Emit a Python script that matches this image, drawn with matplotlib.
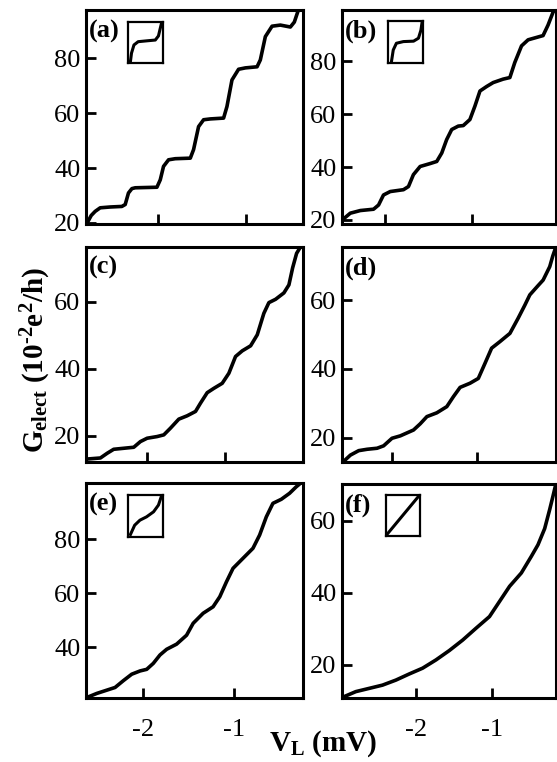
import matplotlib
matplotlib.use('Agg')
import matplotlib.pyplot as plt

plt.rcParams['font.family'] = 'serif'
plt.rcParams['font.serif'] = ['Liberation Serif', 'DejaVu Serif']
plt.rcParams['mathtext.fontset'] = 'custom'
plt.rcParams['mathtext.rm'] = 'Liberation Serif'
plt.rcParams['mathtext.bf'] = 'Liberation Serif:bold'
plt.rcParams['mathtext.it'] = 'Liberation Serif:italic'
plt.rcParams['axes.unicode_minus'] = False

# ---- data (V_L in mV, G in 10^-2 e^2/h) ----
a_vl = [-2.803, -2.761, -2.716, -2.659, -2.545, -2.413, -2.375, -2.338, -2.299, -2.261,
        -2.015, -1.977, -1.940, -1.883, -1.807, -1.636, -1.599, -1.542, -1.485, -1.409,
        -1.258, -1.220, -1.163, -1.088, -1.011, -0.878, -0.841, -0.784, -0.708, -0.614,
        -0.500, -0.455, -0.409]
a_g = [20.2, 22.7, 24.2, 25.5, 25.8, 26.0, 26.7, 30.9, 32.5, 32.8,
       33.0, 35.7, 40.6, 43.0, 43.4, 43.6, 46.7, 55.1, 57.6, 57.9,
       58.2, 62.4, 72.1, 76.0, 76.5, 76.9, 79.4, 87.9, 91.7, 92.1,
       91.4, 93.2, 97.6]

b_vl = [-2.473, -2.404, -2.288, -2.135, -2.077, -2.020, -1.942, -1.789, -1.731, -1.674,
        -1.596, -1.481, -1.404, -1.346, -1.289, -1.231, -1.155, -1.097, -1.020, -0.962,
        -0.904, -0.827, -0.751, -0.636, -0.558, -0.501, -0.423, -0.347, -0.250, -0.174,
        -0.116, -0.058, -0.038]
b_g = [20.6, 22.5, 23.5, 24.0, 25.6, 29.4, 30.7, 31.4, 32.6, 37.1,
       40.2, 41.3, 42.1, 45.3, 50.4, 54.2, 55.5, 55.7, 58.0, 63.1,
       68.8, 70.5, 72.0, 73.3, 73.9, 79.6, 85.9, 88.2, 89.1, 89.8,
       93.8, 98.7, 99.5]

c_vl = [-2.768, -2.604, -2.517, -2.432, -2.303, -2.173, -2.087, -2.000, -1.871, -1.785,
        -1.699, -1.591, -1.483, -1.375, -1.310, -1.224, -1.138, -1.030, -0.944, -0.858,
        -0.771, -0.663, -0.577, -0.492, -0.427, -0.340, -0.233, -0.168, -0.120, -0.069,
        -0.017]
c_g = [13.0, 13.3, 14.7, 15.9, 16.2, 16.5, 18.2, 19.2, 19.7, 20.2,
       22.2, 24.9, 25.9, 27.2, 29.7, 32.8, 34.1, 35.6, 38.6, 43.6,
       45.3, 46.8, 50.1, 56.5, 59.7, 60.7, 62.6, 65.0, 70.1, 74.4,
       76.4]

d_vl = [-2.561, -2.491, -2.393, -2.294, -2.176, -2.099, -2.000, -1.902, -1.746, -1.667,
        -1.588, -1.471, -1.353, -1.275, -1.196, -1.079, -0.981, -0.902, -0.824, -0.726,
        -0.608, -0.511, -0.432, -0.373, -0.279, -0.216, -0.138, -0.102, -0.067]
d_g = [13.3, 14.9, 16.2, 16.6, 16.9, 17.6, 19.8, 20.5, 22.2, 24.0,
       26.1, 27.2, 29.0, 31.9, 34.6, 35.8, 37.2, 41.6, 46.0, 47.9,
       50.3, 54.7, 58.5, 61.5, 64.1, 65.8, 69.7, 72.8, 75.3]

e_vl = [-2.611, -2.502, -2.393, -2.302, -2.212, -2.120, -2.029, -1.956, -1.884, -1.811,
        -1.738, -1.629, -1.520, -1.448, -1.339, -1.230, -1.157, -1.084, -1.012, -0.903,
        -0.794, -0.721, -0.648, -0.576, -0.484, -0.394, -0.321, -0.285]
e_g = [21.5, 23.0, 24.2, 25.2, 27.7, 30.1, 31.3, 31.9, 34.1, 37.2,
       39.3, 41.2, 44.5, 48.9, 52.6, 55.0, 58.7, 64.2, 69.2, 72.9,
       76.6, 81.5, 88.2, 93.2, 94.7, 96.9, 99.3, 100.3]

f_vl = [-2.966, -2.789, -2.614, -2.439, -2.263, -2.088, -1.913, -1.737, -1.562, -1.387,
        -1.211, -1.036, -0.904, -0.772, -0.618, -0.487, -0.400, -0.312, -0.246, -0.203,
        -0.167]
f_g = [11.0, 12.6, 13.5, 14.4, 15.8, 17.5, 19.1, 21.4, 24.0, 26.9,
       30.2, 33.4, 37.6, 41.8, 45.5, 50.1, 53.3, 57.8, 63.1, 66.8,
       70.0]

# small sketches in the insets (box coordinates 0..1)
ins_a_x = [0.07, 0.10, 0.17, 0.29, 0.53, 0.78, 0.87, 0.92, 0.96]
ins_a_y = [0.04, 0.24, 0.44, 0.52, 0.54, 0.56, 0.66, 0.84, 0.98]
ins_b_x = [0.10, 0.15, 0.24, 0.44, 0.73, 0.87, 0.94, 0.97]
ins_b_y = [0.04, 0.31, 0.47, 0.51, 0.52, 0.59, 0.78, 0.95]
ins_e_x = [0.07, 0.19, 0.34, 0.53, 0.73, 0.87, 0.95]
ins_e_y = [0.06, 0.28, 0.40, 0.48, 0.60, 0.76, 0.96]
ins_f_x = [0.04, 0.95]
ins_f_y = [0.05, 0.96]

panel_names = ['(a)', '(b)', '(c)', '(d)', '(e)', '(f)']
xlims = [(-2.82, -0.36), (-2.50, -0.03), (-2.79, 0.01), (-2.59, -0.07), (-2.62, -0.25), (-2.97, -0.17)]
ylims = [(19.6, 97.6), (18.4, 99.5), (12.1, 76.4), (12.9, 75.5), (21.2, 100.6), (10.75, 70.3)]
yticks = [[20, 40, 60, 80], [20, 40, 60, 80], [20, 40, 60], [20, 40, 60], [40, 60, 80], [20, 40, 60]]
xticks = [-2, -1]

curves = [(a_vl, a_g), (b_vl, b_g), (c_vl, c_g), (d_vl, d_g), (e_vl, e_g), (f_vl, f_g)]
insets = {0: (ins_a_x, ins_a_y), 1: (ins_b_x, ins_b_y), 4: (ins_e_x, ins_e_y), 5: (ins_f_x, ins_f_y)}

W, H = 557.0, 762.0
# axes boxes in pixels: left, top, right, bottom
boxes = [(86, 10, 302.7, 224), (342, 10, 555.5, 224),
         (86, 246.7, 302.7, 462), (342, 246.7, 555.5, 462),
         (86, 483.3, 302.7, 698.3), (342, 483.5, 555.5, 698.3)]
inset_boxes = {0: (128, 22, 163, 63), 1: (388, 21, 423, 63),
               4: (128, 495, 163, 537), 5: (386, 495, 420, 536)}

def rect(b):
    l, t, r, bt = b
    return [l / W, 1 - bt / H, (r - l) / W, (bt - t) / H]

fig = plt.figure(figsize=(W / 100, H / 100), dpi=100)

for i in range(6):
    ax = fig.add_axes(rect(boxes[i]))
    x, y = curves[i]
    ax.plot(x, y, color='black', lw=2.6, solid_joinstyle='round', solid_capstyle='round')
    ax.set_xlim(xlims[i])
    ax.set_ylim(ylims[i])
    ax.set_yticks(yticks[i])
    ax.set_xticks(xticks)
    for s in ax.spines.values():
        s.set_linewidth(2.2)
    ax.tick_params(direction='in', length=7, width=2.0, labelsize=19, pad=4)
    ax.tick_params(axis='x', pad=15)
    if i < 4:
        ax.set_xticklabels([])
    ax.text(0.015, 0.955, panel_names[i], transform=ax.transAxes, ha='left', va='top',
            fontsize=19, fontweight='bold')

    if i in insets:
        ia = fig.add_axes(rect(inset_boxes[i]))
        ix, iy = insets[i]
        ia.plot(ix, iy, color='black', lw=2.2)
        ia.set_xlim(0, 1)
        ia.set_ylim(0, 1)
        ia.set_xticks([])
        ia.set_yticks([])
        for s in ia.spines.values():
            s.set_linewidth(1.6)

fig.text(323 / W, 1 - 751 / H, r'$\mathbf{V_L\ (mV)}$', ha='center', va='baseline', fontsize=21)
fig.text(36 / W, 1 - 360 / H, r'$\mathbf{G_{elect}\ (10^{\text{-}2}e^{2}/h)}$', ha='center', va='center',
         rotation=90, fontsize=21)

plt.savefig('out.png', dpi=100)
